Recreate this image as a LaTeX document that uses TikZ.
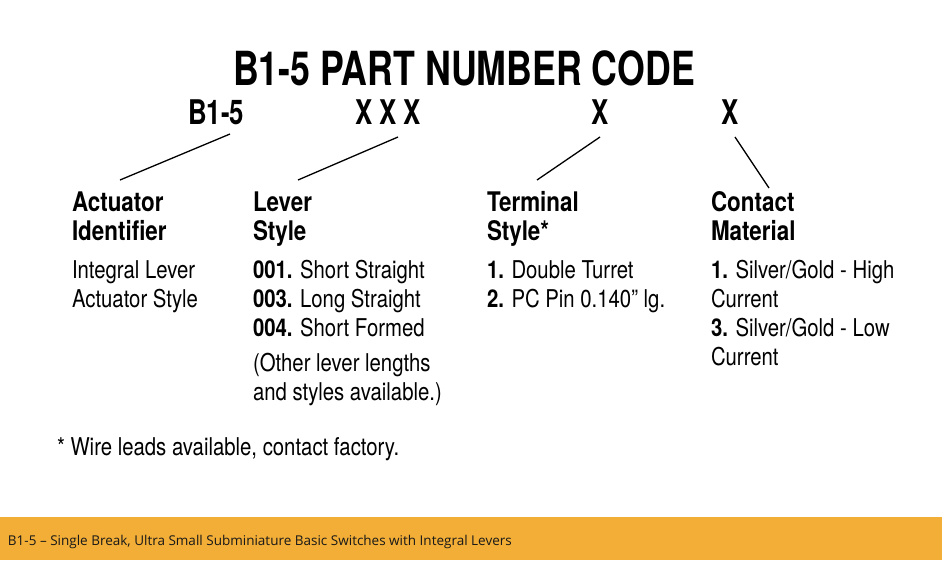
\documentclass[tikz,border=0pt]{standalone}
\usepackage{fontspec}
\setmainfont{TeX Gyre Heros}[FakeStretch=0.83]
\newfontfamily\titlefont{TeX Gyre Heros}[FakeStretch=0.76]
\newfontfamily\barfont{Open Sans}
\definecolor{barorange}{HTML}{F2AE36}
\begin{document}
\begin{tikzpicture}[x=1pt,y=-1pt,
  txt/.style={anchor=base west,inner sep=0pt,outer sep=0pt},
  ttl/.style={txt,font=\titlefont\bfseries\fontsize{47}{47}\selectfont},
  code/.style={txt,font=\titlefont\bfseries\fontsize{34}{34}\selectfont},
  head/.style={txt,font=\bfseries\fontsize{27}{27}\selectfont},
  body/.style={txt,font=\fontsize{24.5}{24.5}\selectfont},
  lead/.style={line width=1.3pt}]
\useasboundingbox (0,0) rectangle (942,560);
\fill[white] (0,0) rectangle (942,517);
\fill[barorange] (0,517) rectangle (942,560);
\node[ttl,anchor=base] (title) at (464,85) {B1-5 PART NUMBER CODE};
\node[code] (cB) at (188,124) {B1-5};
\node[code] (cX) at (355,124) {X X X};
\node[code] (cT) at (591,124) {X};
\node[code] (cC) at (721,124) {X};
% leader coordinates
\coordinate (l1a) at (230,134); \coordinate (l1b) at (120,180);
\coordinate (l2a) at (398,137); \coordinate (l2b) at (298,180);
\coordinate (l3a) at (600,137); \coordinate (l3b) at (537,180);
\coordinate (l4a) at (735,137); \coordinate (l4b) at (769,188);
\draw[lead] (l1a) -- (l1b);
\draw[lead] (l2a) -- (l2b);
\draw[lead] (l3a) -- (l3b);
\draw[lead] (l4a) -- (l4b);
% headers
\node[head] (h1a) at (72,211) {Actuator};
\node[head] (h1b) at (72,240) {Identifier};
\node[head] (h2a) at (253,211) {Lever};
\node[head] (h2b) at (253,240) {Style};
\node[head] (h3a) at (487,211) {Terminal};
\node[head] (h3b) at (487,240) {Style*};
\node[head] (h4a) at (711,211) {Contact};
\node[head] (h4b) at (711,240) {Material};
% bodies
\node[body] (b1a) at (72,278) {Integral Lever};
\node[body] (b1b) at (72,307) {Actuator Style};
\node[body] (b2a) at (253,278) {\textbf{001.} Short Straight};
\node[body] (b2b) at (253,307) {\textbf{003.} Long Straight};
\node[body] (b2c) at (253,336) {\textbf{004.} Short Formed};
\node[body] (b2d) at (253,371) {(Other lever lengths};
\node[body] (b2e) at (253,400) {and styles available.)};
\node[body] (b3a) at (487,278) {\textbf{1.} Double Turret};
\node[body] (b3b) at (487,307) {\textbf{2.} PC Pin 0.140” lg.};
\node[body] (b4a) at (711,278) {\textbf{1.} Silver/Gold - High};
\node[body] (b4b) at (711,307) {Current};
\node[body] (b4c) at (711,336) {\textbf{3.} Silver/Gold - Low};
\node[body] (b4d) at (711,365) {Current};
\node[body] (foot) at (57,455) {* Wire leads available, contact factory.};
\node[txt,font=\barfont\fontsize{13.5}{13.5}\selectfont,color=black!90] (bar) at (8,545) {B1-5 – Single Break, Ultra Small Subminiature Basic Switches with Integral Levers};
\end{tikzpicture}
\end{document}
